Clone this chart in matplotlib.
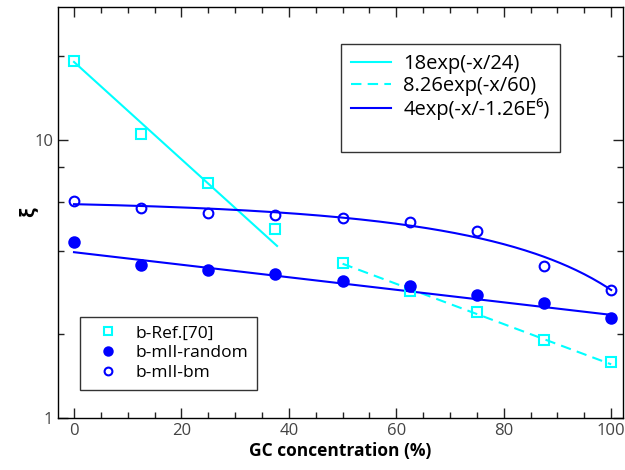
import numpy as np
import matplotlib
matplotlib.use('Agg')
import matplotlib.pyplot as plt
from matplotlib.ticker import LogLocator, NullFormatter, MultipleLocator
from matplotlib.lines import Line2D

plt.rcParams['font.family'] = ['Open Sans', 'DejaVu Sans']

# GC concentration (%)
gc = [0, 12.5, 25, 37.5, 50, 62.5, 75, 87.5, 100]
# correlation length xi
xi_ref70 = [19.2, 10.5, 7.0, 4.79, 3.6, 2.86, 2.41, 1.91, 1.59]
xi_random = [4.30, 3.55, 3.40, 3.30, 3.11, 2.98, 2.77, 2.59, 2.29]
xi_bm = [6.04, 5.69, 5.46, 5.37, 5.24, 5.07, 4.71, 3.52, 2.88]

# fitted curves (parameters)
fit1_amp, fit1_tau, fit1_range = 19.1, 24.8, (0, 37.8)
fit2_amp, fit2_tau, fit2_range = 8.26, 60.0, (50, 100)
fit3_amp, fit3_tau, fit3_range = 3.95, 192.6, (0, 100)
fit4_a, fit4_b, fit4_c, fit4_range = 6.1, 0.22, 37.3, (0, 100)

fit_labels = ['18exp(-x/24)', '8.26exp(-x/60)', '4exp(-x/-1.26E\u2076)']
data_labels = ['b-Ref.[70]', 'b-mII-random', 'b-mII-bm']

cyan = '#00ffff'
blue = '#0000ff'

fig = plt.figure(figsize=(6.25, 4.70), dpi=100)
ax = fig.add_axes([0.0928, 0.1106, 0.904, 0.8744])

x1 = np.linspace(*fit1_range, 100)
x2 = np.linspace(*fit2_range, 100)
x3 = np.linspace(*fit3_range, 200)
x4 = np.linspace(*fit4_range, 200)
l1, = ax.plot(x1, fit1_amp*np.exp(-x1/fit1_tau), color=cyan, lw=1.5)
l2, = ax.plot(x2, fit2_amp*np.exp(-x2/fit2_tau), color=cyan, lw=1.5, ls=(0, (5, 3)))
l3, = ax.plot(x3, fit3_amp*np.exp(-x3/fit3_tau), color=blue, lw=1.5)
ax.plot(x4, fit4_a - fit4_b*np.exp(x4/fit4_c), color=blue, lw=1.5)

p1, = ax.plot(gc, xi_ref70, ls='none', marker='s', ms=7, mfc='none', mec=cyan, mew=1.5)
p2, = ax.plot(gc, xi_random, ls='none', marker='o', ms=7.5, mfc=blue, mec=blue, mew=1.5)
p3, = ax.plot(gc, xi_bm, ls='none', marker='o', ms=7, mfc='none', mec=blue, mew=1.5)

ax.set_yscale('log')
ax.set_xlim(-2.98, 102.2)
ax.set_ylim(1, 30.1)
ax.set_yticks([1, 10])
ax.set_yticklabels(['1', '10'])
ax.yaxis.set_minor_locator(LogLocator(base=10, subs=(2, 4, 6, 8)))
ax.yaxis.set_minor_formatter(NullFormatter())
ax.xaxis.set_major_locator(MultipleLocator(20))
ax.xaxis.set_minor_locator(MultipleLocator(5))
ax.tick_params(which='both', direction='in', top=True, right=True,
               labelsize=12, labelcolor='#444444', color='#222222')
ax.tick_params(which='major', length=7, width=1)
ax.tick_params(which='minor', length=4, width=1)
for s in ax.spines.values():
    s.set_linewidth(1)

ax.set_xlabel('GC concentration (%)', fontsize=12.5, fontweight='bold', labelpad=2)
ax.set_ylabel('\u03be', fontsize=14, fontweight='bold', labelpad=-3)

blank = Line2D([], [], ls='none')
leg1 = ax.legend([l1, l2, l3, blank], fit_labels + [' '], loc='upper left',
                 bbox_to_anchor=(0.501, 0.910), fontsize=14.5, frameon=True,
                 fancybox=False, edgecolor='black', handlelength=2.0,
                 borderpad=0.5, labelspacing=0.1, handletextpad=0.6,
                 borderaxespad=0)
leg1.get_frame().set_linewidth(1)
ax.add_artist(leg1)

leg2 = ax.legend([p1, p2, p3], data_labels, loc='lower left',
                 bbox_to_anchor=(0.039, 0.068), fontsize=12.5, frameon=True,
                 fancybox=False, edgecolor='black', handlelength=2.2,
                 borderpad=0.5, labelspacing=0.22, handletextpad=0.5,
                 markerscale=0.8, borderaxespad=0)
leg2.get_frame().set_linewidth(1)

fig.savefig('out.png', dpi=100)
